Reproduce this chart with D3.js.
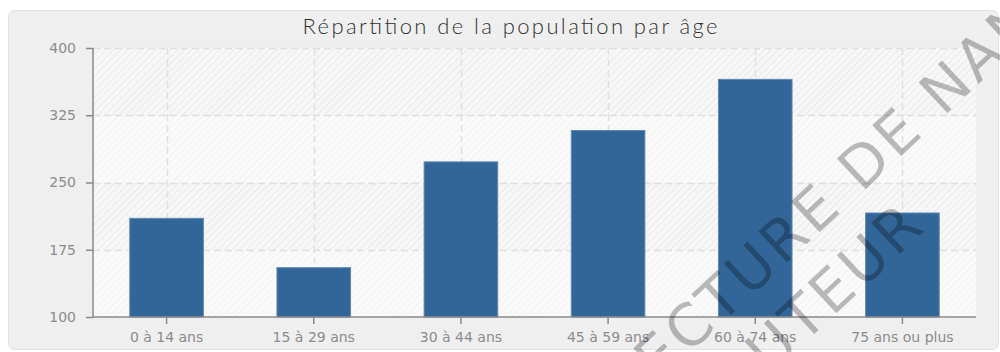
<!DOCTYPE html>
<html lang="fr">
<head>
<meta charset="utf-8">
<title>Répartition de la population par âge</title>
<script src="https://cdn.jsdelivr.net/npm/d3@7"></script>
<style>
  html, body { margin: 0; padding: 0; background: #ffffff; }
  svg { display: block; }
</style>
</head>
<body>
<svg id="chart" width="1000" height="352"></svg>
<script>
// Age groups and population counts
const categories = ["0 à 14 ans", "15 à 29 ans", "30 à 44 ans", "45 à 59 ans", "60 à 74 ans", "75 ans ou plus"];
const population = [210, 155, 273, 308, 365, 216];
const yTicks = [100, 175, 250, 325, 400];
const chartTitle = "Répartition de la population par âge";
const watermarkLines = ["LECTURE DE NAN", "AUTEUR"];

const svg = d3.select("#chart");
const plot = { left: 93, right: 976, top: 48, bottom: 317 };

const defs = svg.append("defs");
// Diagonal hatching for the plot bands
function hatch(id, bg, line) {
  const p = defs.append("pattern")
    .attr("id", id).attr("patternUnits", "userSpaceOnUse")
    .attr("width", 5).attr("height", 5)
    .attr("patternTransform", "rotate(45)");
  p.append("rect").attr("width", 5).attr("height", 5).attr("fill", bg);
  p.append("line").attr("x1", 0).attr("y1", 0).attr("x2", 0).attr("y2", 5)
    .attr("stroke", line).attr("stroke-width", 1.2);
}
hatch("hatchStrong", "#f7f7f7", "#e2e2e2");
hatch("hatchLight", "#fafafa", "#eeeeee");

// Outer panel
svg.append("rect")
  .attr("x", 8.5).attr("y", 10.5).attr("width", 990).attr("height", 339)
  .attr("rx", 6).attr("ry", 6)
  .attr("fill", "#efefef").attr("stroke", "#e2e2e2");

const x = d3.scaleBand().domain(categories)
  .range([plot.left, plot.right]).paddingInner(0.5).paddingOuter(0.25);
const y = d3.scaleLinear().domain([100, 400]).range([plot.bottom, plot.top]);

// Alternating hatched bands between ticks
const bands = d3.pairs(yTicks);
svg.append("g").selectAll("rect").data(bands).join("rect")
  .attr("x", plot.left).attr("width", plot.right - plot.left)
  .attr("y", d => y(d[1])).attr("height", d => y(d[0]) - y(d[1]))
  .attr("fill", (d, i) => i % 2 === 0 ? "url(#hatchLight)" : "url(#hatchStrong)");

// Dashed grid
const grid = svg.append("g").attr("stroke", "#e0e0e0").attr("stroke-width", 1.5)
  .attr("stroke-dasharray", "7,4").attr("fill", "none");
grid.selectAll("line.h").data(yTicks.filter(t => t > 100)).join("line")
  .attr("class", "h")
  .attr("x1", plot.left).attr("x2", plot.right)
  .attr("y1", d => Math.round(y(d)) + 0.5).attr("y2", d => Math.round(y(d)) + 0.5);
grid.selectAll("line.v").data(categories).join("line")
  .attr("class", "v")
  .attr("x1", d => Math.round(x(d) + x.bandwidth() / 2) + 0.5)
  .attr("x2", d => Math.round(x(d) + x.bandwidth() / 2) + 0.5)
  .attr("y1", plot.top).attr("y2", plot.bottom);

// Bars
svg.append("g").selectAll("rect").data(categories).join("rect")
  .attr("x", d => x(d)).attr("width", x.bandwidth())
  .attr("y", (d, i) => y(population[i]))
  .attr("height", (d, i) => plot.bottom - y(population[i]))
  .attr("fill", "#326598").attr("stroke", "#5e87b1").attr("stroke-width", 1);

// Axes
const axisColor = "#8a8a8a";
const labelFont = "DejaVu Sans, Verdana, sans-serif";
const yAxis = svg.append("g").attr("transform", `translate(${plot.left},0)`)
  .call(d3.axisLeft(y).tickValues(yTicks).tickSize(7).tickPadding(10));
const xAxis = svg.append("g").attr("transform", `translate(0,${plot.bottom})`)
  .call(d3.axisBottom(x).tickSize(7).tickPadding(8));
[yAxis, xAxis].forEach(a => {
  a.select(".domain").attr("stroke", axisColor).attr("stroke-width", 1.5);
  a.selectAll(".tick line").attr("stroke", axisColor).attr("stroke-width", 1.5);
  a.selectAll("text").attr("fill", "#8c8c8c")
    .attr("font-family", labelFont).attr("font-size", 14);
});
xAxis.select(".domain").attr("d", `M${plot.left},0H${plot.right}`);
yAxis.select(".domain").attr("d", `M0,${plot.top}V${plot.bottom}`);

// Title
svg.append("text")
  .attr("x", 510).attr("y", 34).attr("text-anchor", "middle")
  .attr("font-family", "Lato, 'DejaVu Sans', sans-serif").attr("font-weight", 300)
  .attr("font-size", 22).attr("fill", "#333333")
  .attr("textLength", 415).attr("lengthAdjust", "spacing")
  .text(chartTitle);

// Diagonal watermark
const fs = 58, ls = 4;
const wm = svg.append("g")
  .attr("transform", "translate(688,326) rotate(-43)")
  .attr("font-family", "'DejaVu Sans', sans-serif").attr("font-size", fs)
  .attr("fill", "#000").attr("fill-opacity", 0.26)
  .attr("letter-spacing", ls);
wm.append("text").attr("x", -1.538 * fs - 2 * ls).attr("y", 0.365 * fs).text(watermarkLines[0]);
wm.append("text").attr("x", -18).attr("y", 92).text(watermarkLines[1]);
</script>
</body>
</html>
